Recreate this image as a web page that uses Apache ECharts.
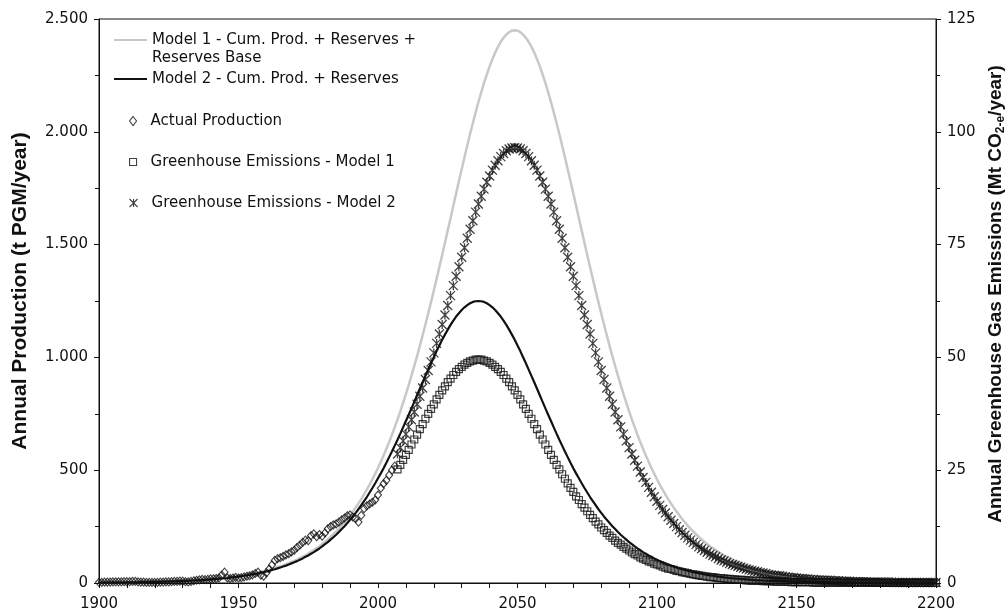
<!DOCTYPE html>
<html>
<head>
<meta charset="utf-8">
<script src="https://cdn.jsdelivr.net/npm/echarts@6/dist/echarts.min.js"></script>
<style>
  html, body { margin: 0; padding: 0; background: #fff; }
  #chart { width: 1006px; height: 614px; }
</style>
</head>
<body>
<div id="chart"></div>
<script>
// Yearly PGM production (t/year) for both Hubbert-type models, 1900-2200
const modelStartYear = 1900;
const model1Production = [
  2,2,2,2,2,2,2,2,3,3,
  3,3,3,4,4,4,4,5,5,5,
  5,6,6,7,7,7,8,8,9,9,
  10,11,11,12,12,13,14,15,16,16,
  17,19,20,21,22,24,25,26,28,29,
  31,33,35,37,39,42,44,47,49,52,
  56,59,62,66,70,74,78,83,88,93,
  98,104,110,117,123,130,138,146,155,163,
  173,183,193,204,216,228,241,255,269,284,
  300,317,334,353,372,393,414,436,460,485,
  510,537,565,595,625,657,691,725,761,799,
  837,877,919,962,1006,1051,1098,1146,1195,1245,
  1296,1348,1401,1454,1508,1563,1617,1672,1727,1781,
  1834,1887,1939,1990,2039,2086,2132,2175,2217,2254,
  2290,2322,2351,2377,2399,2417,2431,2442,2448,2450,
  2448,2442,2431,2417,2399,2377,2351,2322,2290,2254,
  2217,2175,2132,2086,2039,1990,1939,1887,1834,1781,
  1727,1672,1617,1563,1508,1454,1401,1348,1296,1245,
  1195,1146,1098,1051,1006,962,919,877,837,799,
  761,725,691,657,625,595,565,537,510,485,
  460,436,414,393,372,353,334,317,300,284,
  269,255,241,228,216,204,193,183,173,163,
  155,146,138,130,123,117,110,104,98,93,
  88,83,78,74,70,66,62,59,56,52,
  49,47,44,42,39,37,35,33,31,29,
  28,26,25,24,22,21,20,19,17,16,
  16,15,14,13,12,12,11,11,10,9,
  9,8,8,7,7,7,6,6,5,5,
  5,5,4,4,4,4,3,3,3,3,
  3,2,2,2,2,2,2,2,2,1,
  1
];
const model2Production = [
  1,2,2,2,2,2,2,2,2,2,
  3,3,3,3,3,4,4,4,4,5,
  5,5,5,6,6,6,7,7,8,8,
  9,9,10,10,11,12,12,13,14,15,
  16,17,18,19,20,21,22,24,25,27,
  28,30,32,34,36,38,41,43,46,48,
  51,54,58,61,65,69,73,77,82,87,
  92,97,103,109,116,122,130,137,145,153,
  162,172,181,192,203,214,226,239,252,266,
  280,295,311,327,345,363,381,401,421,442,
  464,486,509,533,558,583,609,635,662,690,
  718,746,774,803,832,861,890,918,946,974,
  1001,1028,1053,1078,1101,1123,1144,1163,1181,1196,
  1210,1222,1232,1240,1246,1249,1250,
  1249,1246,1240,1232,1222,1210,1196,1181,1163,1144,
  1123,1101,1078,1053,1028,1001,974,946,918,890,
  861,832,803,774,746,718,690,662,635,609,
  583,558,533,509,486,464,442,421,401,381,
  363,345,327,311,295,280,266,252,239,226,
  214,203,192,181,172,162,153,145,137,130,
  122,116,109,103,97,92,87,82,77,73,
  69,65,61,58,54,51,48,46,43,41,
  38,36,34,32,30,28,27,25,24,22,
  21,20,19,18,17,16,15,14,13,12,
  12,11,10,10,9,9,8,8,7,7,
  6,6,6,5,5,5,5,4,4,4,
  4,3,3,3,3,3,2,2,2,2,
  2,2,2,2,2,1,1,1,1,1,
  1,1,1,1,1,1,1,1,1,1,
  1,1,1,1,0,0,0,0,0,0,0,0,0,0
];

// Recorded production (t/year), 1900-2006
const actualStartYear = 1900;
const actualProduction = [
  3,3,4,4,4,5,5,5,5,6,
  6,6,7,7,5,4,4,3,3,3,
  3,3,4,4,5,5,6,7,7,8,
  8,6,5,7,10,12,14,16,15,16,
  18,19,20,22,35,48,22,20,22,25,
  22,24,27,30,32,36,42,48,35,30,
  45,62,80,100,108,112,118,125,130,138,
  145,158,168,180,190,188,210,218,205,215,
  208,222,240,250,258,262,270,280,288,298,
  302,292,285,270,300,330,342,350,358,368,
  390,420,440,455,478,500,518
];

// Greenhouse gas emissions (Mt CO2-e/year), 2007-2200
const emissionsStartYear = 2007;
const emissionsModel1 = [
  25.2,26.2,27.3,28.4,29.5,30.7,31.8,32.9,34.1,35.2,
  36.4,37.5,38.6,39.6,40.7,41.7,42.7,43.6,44.5,45.3,
  46.1,46.8,47.4,47.9,48.4,48.8,49.1,49.3,49.5,49.5,
  49.5,49.3,49.1,48.8,48.4,47.9,47.4,46.8,46.1,45.3,
  44.5,43.6,42.7,41.7,40.7,39.6,38.6,37.5,36.4,35.2,
  34.1,32.9,31.8,30.7,29.5,28.4,27.3,26.2,25.2,24.1,
  23.1,22.1,21.1,20.2,19.2,18.4,17.5,16.7,15.9,15.1,
  14.4,13.6,13.0,12.3,11.7,11.1,10.5,10.0,9.4,8.9,
  8.5,8.0,7.6,7.2,6.8,6.4,6.1,5.7,5.4,5.1,
  4.8,4.6,4.3,4.1,3.9,3.6,3.4,3.2,3.1,2.9,
  2.7,2.6,2.4,2.3,2.2,2.0,1.9,1.8,1.7,1.6,
  1.5,1.4,1.3,1.3,1.2,1.1,1.1,1.0,0.9,0.9,
  0.8,0.8,0.7,0.7,0.7,0.6,0.6,0.5,0.5,0.5,
  0.5,0.4,0.4,0.4,0.4,0.3,0.3,0.3,0.3,0.3,
  0.3,0.2,0.2,0.2,0.2,0.2,0.2,0.2,0.2,0.1,
  0.1,0.1,0.1,0.1,0.1,0.1,0.1,0.1,0.1,0.1,
  0.1,0.1,0.1,0.1,0.1,0.1,0.1,0.1,0.1,0.1,
  0.1,0.1,0.1,0.1,0.0,0.0,0.0,0.0,0.0,0.0,
  0.0,0.0,0.0,0.0,0.0,0.0,0.0,0.0,0.0,0.0,0.0,0.0,0.0,0.0
];
const emissionsModel2 = [
  28.6,30.0,31.5,33.0,34.6,36.2,37.9,39.6,41.4,43.2,
  45.1,47.1,49.0,51.0,53.1,55.2,57.3,59.4,61.5,63.7,
  65.9,68.0,70.1,72.2,74.3,76.4,78.4,80.3,82.2,84.0,
  85.7,87.3,88.8,90.2,91.5,92.6,93.6,94.5,95.2,95.8,
  96.2,96.4,96.5,
  96.4,96.2,95.8,95.2,94.5,93.6,92.6,91.5,90.2,88.8,
  87.3,85.7,84.0,82.2,80.3,78.4,76.4,74.3,72.2,70.1,
  68.0,65.9,63.7,61.5,59.4,57.3,55.2,53.1,51.0,49.0,
  47.1,45.1,43.2,41.4,39.6,37.9,36.2,34.6,33.0,31.5,
  30.0,28.6,27.2,25.9,24.6,23.4,22.3,21.2,20.1,19.1,
  18.1,17.2,16.3,15.5,14.7,13.9,13.2,12.5,11.8,11.2,
  10.6,10.0,9.5,9.0,8.5,8.0,7.6,7.2,6.8,6.4,
  6.1,5.8,5.4,5.1,4.9,4.6,4.3,4.1,3.9,3.7,
  3.5,3.3,3.1,2.9,2.8,2.6,2.5,2.3,2.2,2.1,
  1.9,1.8,1.7,1.6,1.6,1.5,1.4,1.3,1.2,1.2,
  1.1,1.0,1.0,0.9,0.9,0.8,0.8,0.7,0.7,0.6,
  0.6,0.6,0.6,0.5,0.5,0.5,0.4,0.4,0.4,0.4,
  0.3,0.3,0.3,0.3,0.3,0.3,0.2,0.2,0.2,0.2,
  0.2,0.2,0.2,0.2,0.2,0.1,0.1,0.1,0.1,0.1,
  0.1,0.1,0.1,0.1,0.1,0.1,0.1,0.1,0.1,0.1,
  0.1
];

// Axis tick labels
const yearTickLabels = ['1900', '1950', '2000', '2050', '2100', '2150', '2200'];
const productionTickLabels = ['0', '500', '1.000', '1.500', '2.000', '2.500'];
const emissionTickLabels = ['0', '25', '50', '75', '100', '125'];

const seriesNames = {
  model1: 'Model 1 - Cum. Prod. + Reserves +\nReserves Base',
  model2: 'Model 2 - Cum. Prod. + Reserves',
  actual: 'Actual Production',
  ghg1: 'Greenhouse Emissions - Model 1',
  ghg2: 'Greenhouse Emissions - Model 2'
};

const toPairs = (start, values) => values.map((v, i) => [start + i, v]);
const tickLabel = (labels, min, step) => (v) => labels[Math.round((v - min) / step)] ?? '';

const INK = '#111';
const TICK_FONT = "'DejaVu Sans', sans-serif";
const TITLE_FONT = "'Liberation Sans', Arial, sans-serif";
const ASTERISK = 'path://M0,0L10,10M10,0L0,10M5,0L5,10';

const legendText = {
  fontFamily: TICK_FONT, fontSize: 15, color: INK, lineHeight: 16,
  rich: { sp: { width: 9 } }
};
// line entries: plain stroke, no centre symbol
const lineLegend = {
  orient: 'vertical', padding: 0, selectedMode: false,
  left: 113, itemWidth: 33, itemHeight: 14,
  itemStyle: { color: 'rgba(0,0,0,0)', borderWidth: 0 },
  textStyle: legendText
};
// marker entries: small hollow symbol, label shifted to line up with the line entries
const markerLegend = {
  orient: 'vertical', padding: 0, selectedMode: false,
  left: 129, itemStyle: { borderWidth: 1.1 },
  textStyle: legendText,
  formatter: (name) => '{sp| }' + name
};

const axisCommon = {
  axisLine: { show: true, lineStyle: { color: INK, width: 1 } },
  axisTick: { show: true, length: 5, lineStyle: { color: INK, width: 1 } },
  splitLine: { show: false },
  minorSplitLine: { show: false }
};

const chart = echarts.init(document.getElementById('chart'), null, { renderer: 'canvas' });

chart.setOption({
  animation: false,
  backgroundColor: '#fff',
  grid: {
    left: 99, right: 70, top: 19, bottom: 31,
    containLabel: false, outerBoundsMode: 'none',
    show: true, borderColor: INK, borderWidth: 1, backgroundColor: 'transparent'
  },
  legend: [
    Object.assign({}, lineLegend, {
      data: [seriesNames.model1], top: 13,
      textStyle: Object.assign({}, legendText, { lineHeight: 18 }),
      formatter: (name) => '\n' + name
    }),
    Object.assign({}, lineLegend, { data: [seriesNames.model2], top: 71 }),
    Object.assign({}, markerLegend, { data: [seriesNames.actual], top: 113, itemWidth: 7, itemHeight: 9 }),
    Object.assign({}, markerLegend, { data: [seriesNames.ghg1], top: 154, itemWidth: 7, itemHeight: 7 }),
    Object.assign({}, markerLegend, { data: [seriesNames.ghg2], top: 195, itemWidth: 8, itemHeight: 8 })
  ],
  xAxis: Object.assign({}, axisCommon, {
    type: 'value', min: 1900, max: 2200, interval: 50,
    minorTick: { show: true, splitNumber: 5, length: 5, lineStyle: { color: INK, width: 1 } },
    axisLabel: {
      margin: 14, fontFamily: TICK_FONT, fontSize: 15, color: INK,
      formatter: tickLabel(yearTickLabels, 1900, 50)
    }
  }),
  yAxis: [
    Object.assign({}, axisCommon, {
      type: 'value', position: 'left', min: 0, max: 2500, interval: 500,
      minorTick: { show: true, splitNumber: 2, length: 4, lineStyle: { color: INK, width: 1 } },
      axisLabel: {
        margin: 11, fontFamily: TICK_FONT, fontSize: 15, color: INK,
        formatter: tickLabel(productionTickLabels, 0, 500)
      },
      name: 'Annual Production (t PGM/year)',
      nameLocation: 'middle', nameRotate: 90, nameGap: 68,
      nameTextStyle: {
        fontFamily: TITLE_FONT, fontWeight: 'bold', fontSize: 21, color: INK,
        padding: [0, 0, 0, 20]
      }
    }),
    Object.assign({}, axisCommon, {
      type: 'value', position: 'right', min: 0, max: 125, interval: 25,
      minorTick: { show: true, splitNumber: 2, length: 4, lineStyle: { color: INK, width: 1 } },
      axisLabel: {
        margin: 11, fontFamily: TICK_FONT, fontSize: 15, color: INK,
        formatter: tickLabel(emissionTickLabels, 0, 25)
      },
      name: '{a|Annual Greenhouse Gas Emissions (Mt CO}{s|2-e}{a|/year)}',
      nameLocation: 'middle', nameRotate: 90, nameGap: 45,
      nameTextStyle: {
        fontFamily: TITLE_FONT, fontWeight: 'bold', fontSize: 19, color: INK,
        padding: [0, 0, 0, 14],
        rich: {
          a: { fontFamily: TITLE_FONT, fontWeight: 'bold', fontSize: 19, color: INK, lineHeight: 22 },
          s: { fontFamily: TITLE_FONT, fontWeight: 'bold', fontSize: 12, color: INK, lineHeight: 22, verticalAlign: 'bottom' }
        }
      }
    })
  ],
  series: [
    {
      name: seriesNames.model1, type: 'line', yAxisIndex: 0,
      data: toPairs(modelStartYear, model1Production),
      symbol: 'none', smooth: false, silent: true,
      lineStyle: { color: '#c8c8c8', width: 2.5 },
      itemStyle: { color: '#c8c8c8' }, z: 2
    },
    {
      name: seriesNames.model2, type: 'line', yAxisIndex: 0,
      data: toPairs(modelStartYear, model2Production),
      symbol: 'none', smooth: false, silent: true,
      lineStyle: { color: INK, width: 2.2 },
      itemStyle: { color: INK }, z: 3
    },
    {
      name: seriesNames.actual, type: 'scatter', yAxisIndex: 0,
      data: toPairs(actualStartYear, actualProduction),
      symbol: 'diamond', symbolSize: [7, 8], clip: false, silent: true,
      itemStyle: { color: 'rgba(0,0,0,0)', borderColor: INK, borderWidth: 1.1 }, z: 4
    },
    {
      name: seriesNames.ghg1, type: 'scatter', yAxisIndex: 1,
      data: toPairs(emissionsStartYear, emissionsModel1),
      symbol: 'rect', symbolSize: 7, clip: false, silent: true,
      itemStyle: { color: 'rgba(0,0,0,0)', borderColor: INK, borderWidth: 1.2 }, z: 4
    },
    {
      name: seriesNames.ghg2, type: 'scatter', yAxisIndex: 1,
      data: toPairs(emissionsStartYear, emissionsModel2),
      symbol: ASTERISK, symbolSize: 9, clip: false, silent: true,
      itemStyle: { color: 'rgba(0,0,0,0)', borderColor: INK, borderWidth: 1.3 }, z: 4
    }
  ]
});
</script>
</body>
</html>
